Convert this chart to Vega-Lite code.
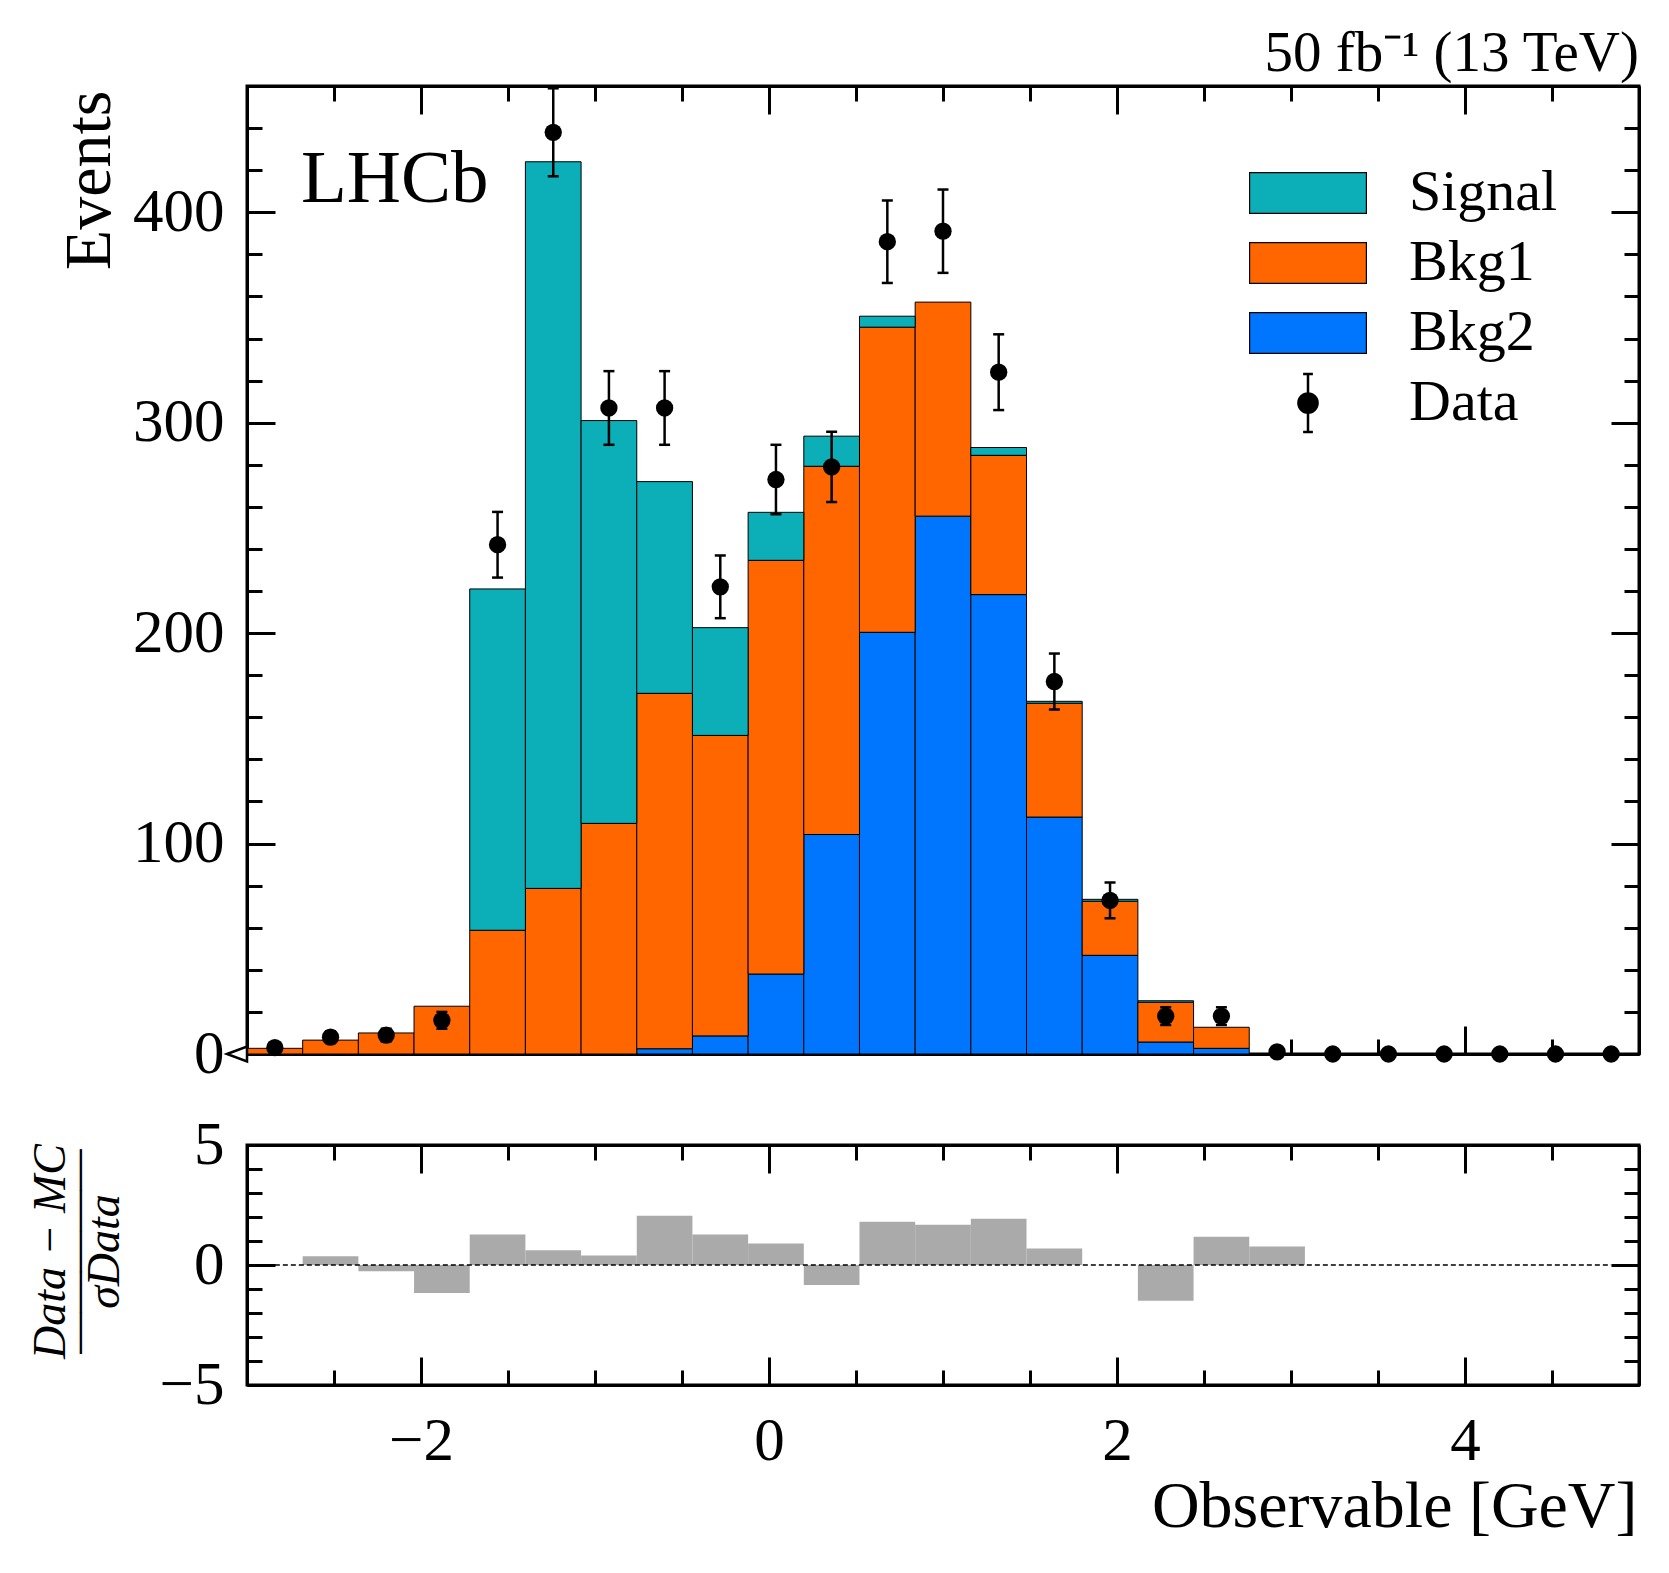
{
  "$schema": "https://vega.github.io/schema/vega-lite/v6.json",
  "background": "white",
  "padding": {"left": 25, "top": 23, "right": 20, "bottom": 20},
  "datasets": {
    "hist": [
      {"x0": -3.00, "x1": -2.68, "comp": "Bkg1", "k": 2, "count": 2.7},
      {"x0": -2.68, "x1": -2.36, "comp": "Bkg1", "k": 2, "count": 6.6},
      {"x0": -2.36, "x1": -2.04, "comp": "Bkg1", "k": 2, "count": 10},
      {"x0": -2.04, "x1": -1.72, "comp": "Bkg1", "k": 2, "count": 22.7},
      {"x0": -1.72, "x1": -1.40, "comp": "Bkg1", "k": 2, "count": 58.8},
      {"x0": -1.72, "x1": -1.40, "comp": "Signal", "k": 3, "count": 162.2},
      {"x0": -1.40, "x1": -1.08, "comp": "Bkg1", "k": 2, "count": 78.7},
      {"x0": -1.40, "x1": -1.08, "comp": "Signal", "k": 3, "count": 345.3},
      {"x0": -1.08, "x1": -0.76, "comp": "Bkg1", "k": 2, "count": 109.6},
      {"x0": -1.08, "x1": -0.76, "comp": "Signal", "k": 3, "count": 191.4},
      {"x0": -0.76, "x1": -0.44, "comp": "Bkg2", "k": 1, "count": 2.5},
      {"x0": -0.76, "x1": -0.44, "comp": "Bkg1", "k": 2, "count": 168.9},
      {"x0": -0.76, "x1": -0.44, "comp": "Signal", "k": 3, "count": 100.6},
      {"x0": -0.44, "x1": -0.12, "comp": "Bkg2", "k": 1, "count": 8.6},
      {"x0": -0.44, "x1": -0.12, "comp": "Bkg1", "k": 2, "count": 142.8},
      {"x0": -0.44, "x1": -0.12, "comp": "Signal", "k": 3, "count": 51.2},
      {"x0": -0.12, "x1": 0.20, "comp": "Bkg2", "k": 1, "count": 38},
      {"x0": -0.12, "x1": 0.20, "comp": "Bkg1", "k": 2, "count": 196.6},
      {"x0": -0.12, "x1": 0.20, "comp": "Signal", "k": 3, "count": 22.8},
      {"x0": 0.20, "x1": 0.52, "comp": "Bkg2", "k": 1, "count": 104.3},
      {"x0": 0.20, "x1": 0.52, "comp": "Bkg1", "k": 2, "count": 175},
      {"x0": 0.20, "x1": 0.52, "comp": "Signal", "k": 3, "count": 14.3},
      {"x0": 0.52, "x1": 0.84, "comp": "Bkg2", "k": 1, "count": 200.4},
      {"x0": 0.52, "x1": 0.84, "comp": "Bkg1", "k": 2, "count": 145},
      {"x0": 0.52, "x1": 0.84, "comp": "Signal", "k": 3, "count": 5.2},
      {"x0": 0.84, "x1": 1.16, "comp": "Bkg2", "k": 1, "count": 255.6},
      {"x0": 0.84, "x1": 1.16, "comp": "Bkg1", "k": 2, "count": 101.7},
      {"x0": 1.16, "x1": 1.48, "comp": "Bkg2", "k": 1, "count": 218.3},
      {"x0": 1.16, "x1": 1.48, "comp": "Bkg1", "k": 2, "count": 66.2},
      {"x0": 1.16, "x1": 1.48, "comp": "Signal", "k": 3, "count": 3.7},
      {"x0": 1.48, "x1": 1.80, "comp": "Bkg2", "k": 1, "count": 112.6},
      {"x0": 1.48, "x1": 1.80, "comp": "Bkg1", "k": 2, "count": 54.1},
      {"x0": 1.48, "x1": 1.80, "comp": "Signal", "k": 3, "count": 0.9},
      {"x0": 1.80, "x1": 2.12, "comp": "Bkg2", "k": 1, "count": 46.9},
      {"x0": 1.80, "x1": 2.12, "comp": "Bkg1", "k": 2, "count": 25.7},
      {"x0": 1.80, "x1": 2.12, "comp": "Signal", "k": 3, "count": 0.9},
      {"x0": 2.12, "x1": 2.44, "comp": "Bkg2", "k": 1, "count": 5.7},
      {"x0": 2.12, "x1": 2.44, "comp": "Bkg1", "k": 2, "count": 18.9},
      {"x0": 2.12, "x1": 2.44, "comp": "Signal", "k": 3, "count": 0.7},
      {"x0": 2.44, "x1": 2.76, "comp": "Bkg2", "k": 1, "count": 2.7},
      {"x0": 2.44, "x1": 2.76, "comp": "Bkg1", "k": 2, "count": 10}
    ],
    "obs": [
      {"xc": -2.84, "n": 3, "lo": 1.3, "hi": 4.7},
      {"xc": -2.52, "n": 8, "lo": 5.2, "hi": 10.8},
      {"xc": -2.20, "n": 9, "lo": 6, "hi": 12},
      {"xc": -1.88, "n": 16, "lo": 12, "hi": 20},
      {"xc": -1.56, "n": 242, "lo": 226.4, "hi": 257.6},
      {"xc": -1.24, "n": 438, "lo": 417.1, "hi": 458.9},
      {"xc": -0.92, "n": 307, "lo": 289.5, "hi": 324.5},
      {"xc": -0.60, "n": 307, "lo": 289.5, "hi": 324.5},
      {"xc": -0.28, "n": 222, "lo": 207.1, "hi": 236.9},
      {"xc": 0.04, "n": 273, "lo": 256.5, "hi": 289.5},
      {"xc": 0.36, "n": 279, "lo": 262.3, "hi": 295.7},
      {"xc": 0.68, "n": 386, "lo": 366.4, "hi": 405.6},
      {"xc": 1.00, "n": 391, "lo": 371.2, "hi": 410.8},
      {"xc": 1.32, "n": 324, "lo": 306, "hi": 342},
      {"xc": 1.64, "n": 177, "lo": 163.7, "hi": 190.3},
      {"xc": 1.96, "n": 73, "lo": 64.5, "hi": 81.5},
      {"xc": 2.28, "n": 18, "lo": 13.8, "hi": 22.2},
      {"xc": 2.60, "n": 18, "lo": 13.8, "hi": 22.2},
      {"xc": 2.92, "n": 1, "lo": 0, "hi": 2},
      {"xc": 3.24, "n": 0, "lo": 0, "hi": 0},
      {"xc": 3.56, "n": 0, "lo": 0, "hi": 0},
      {"xc": 3.88, "n": 0, "lo": 0, "hi": 0},
      {"xc": 4.20, "n": 0, "lo": 0, "hi": 0},
      {"xc": 4.52, "n": 0, "lo": 0, "hi": 0},
      {"xc": 4.84, "n": 0, "lo": 0, "hi": 0}
    ],
    "ratio": [
      {"x0": -2.68, "x1": -2.36, "r": 0.36},
      {"x0": -2.36, "x1": -2.04, "r": -0.26},
      {"x0": -2.04, "x1": -1.72, "r": -1.17},
      {"x0": -1.72, "x1": -1.40, "r": 1.27},
      {"x0": -1.40, "x1": -1.08, "r": 0.61},
      {"x0": -1.08, "x1": -0.76, "r": 0.40},
      {"x0": -0.76, "x1": -0.44, "r": 2.05},
      {"x0": -0.44, "x1": -0.12, "r": 1.27},
      {"x0": -0.12, "x1": 0.20, "r": 0.90},
      {"x0": 0.20, "x1": 0.52, "r": -0.83},
      {"x0": 0.52, "x1": 0.84, "r": 1.80},
      {"x0": 0.84, "x1": 1.16, "r": 1.68},
      {"x0": 1.16, "x1": 1.48, "r": 1.93},
      {"x0": 1.48, "x1": 1.80, "r": 0.69},
      {"x0": 2.12, "x1": 2.44, "r": -1.49},
      {"x0": 2.44, "x1": 2.76, "r": 1.18},
      {"x0": 2.76, "x1": 3.08, "r": 0.77}
    ]
  },
  "spacing": 91,
  "bounds": "flush",
  "vconcat": [
    {
      "width": 1392,
      "height": 968,
      "title": {
        "text": "50 fb⁻¹ (13 TeV)",
        "anchor": "end",
        "frame": "group",
        "baseline": "alphabetic",
        "offset": -73,
        "fontSize": 57,
        "fontWeight": "normal",
        "font": "Liberation Serif",
        "color": "black"
      },
      "layer": [
        {
          "data": {"name": "hist"},
          "transform": [
            {"stack": "count", "groupby": ["x0"], "sort": [{"field": "k", "order": "ascending"}], "as": ["y0", "y1"]}
          ],
          "mark": {"type": "rect", "stroke": "black", "strokeWidth": 1},
          "encoding": {
            "x": {
              "field": "x0", "type": "quantitative",
              "scale": {"domain": [-3, 5], "nice": false, "zero": false},
              "axis": {
                "orient": "bottom", "title": null, "labels": false,
                "values": [-3, -2.5, -2, -1.5, -1, -0.5, 0, 0.5, 1, 1.5, 2, 2.5, 3, 3.5, 4, 4.5, 5],
                "tickSize": {"condition": {"test": "datum.value % 2 === 0", "value": -28}, "value": -15}
              }
            },
            "x2": {"field": "x1"},
            "y": {
              "field": "y0", "type": "quantitative",
              "scale": {"domain": [0, 460], "nice": false},
              "axis": {
                "orient": "left",
                "values": [0, 20, 40, 60, 80, 100, 120, 140, 160, 180, 200, 220, 240, 260, 280, 300, 320, 340, 360, 380, 400, 420, 440, 460],
                "tickSize": {"condition": {"test": "datum.value % 100 === 0", "value": -28}, "value": -15},
                "labelExpr": "datum.value % 100 === 0 ? datum.label : ''",
                "labelPadding": 51,
                "title": "Events",
                "titleFontSize": 66,
                "titleAngle": -90,
                "titleAlign": "right",
                "titleAnchor": "end",
                "titleBaseline": "alphabetic",
                "titleX": -138,
                "titleY": 4
              }
            },
            "y2": {"field": "y1"},
            "color": {
              "field": "comp", "type": "nominal",
              "scale": {"domain": ["Signal", "Bkg1", "Bkg2", "Data"], "range": ["#0cafb7", "#ff6600", "#0076ff", "black"]},
              "legend": {
                "orient": "none",
                "legendX": 992,
                "legendY": 76,
                "title": null,
                "padding": 0,
                "clipHeight": 62,
                "symbolOffset": 40,
                "symbolSize": 1656,
                "symbolStrokeColor": "black",
                "symbolStrokeWidth": 1.2,
                "symbolOpacity": 1,
                "labelFont": "Liberation Serif",
                "labelFontSize": 58,
                "labelColor": "black",
                "labelOffset": 72,
                "rowPadding": 8,
                "encode": {
                  "symbols": {
                    "update": {
                      "shape": {"signal": "datum.value === 'Data' ? 'M0,-1.42V1.42M-0.24,-1.42H0.24M-0.24,1.42H0.24M-0.47,0A0.47,0.47,0,1,0,0.47,0A0.47,0.47,0,1,0,-0.47,0Z' : 'M-2.87,-1H2.87V1H-2.87Z'"},
                      "strokeWidth": {"signal": "datum.value === 'Data' ? 2.5 : 1.2"}
                    }
                  }
                }
              }
            },
            "order": {"field": "k", "type": "quantitative"}
          }
        },
        {
          "data": {"name": "obs"},
          "mark": {"type": "circle", "color": "black", "size": 300, "opacity": 1},
          "encoding": {
            "x": {
              "field": "xc", "type": "quantitative",
              "axis": {
                "orient": "top", "title": null, "labels": false,
                "values": [-3, -2.5, -2, -1.5, -1, -0.5, 0, 0.5, 1, 1.5, 2, 2.5, 3, 3.5, 4, 4.5, 5],
                "tickSize": {"condition": {"test": "datum.value % 2 === 0", "value": -28}, "value": -15}
              }
            },
            "y": {
              "field": "n", "type": "quantitative",
              "axis": {
                "orient": "right", "title": null, "labels": false,
                "values": [0, 20, 40, 60, 80, 100, 120, 140, 160, 180, 200, 220, 240, 260, 280, 300, 320, 340, 360, 380, 400, 420, 440, 460],
                "tickSize": {"condition": {"test": "datum.value % 100 === 0", "value": -28}, "value": -15}
              }
            }
          }
        },
        {
          "data": {"name": "obs"},
          "mark": {"type": "rule", "color": "black", "strokeWidth": 2.5},
          "encoding": {
            "x": {"field": "xc", "type": "quantitative", "axis": null},
            "y": {"field": "lo", "type": "quantitative", "axis": null},
            "y2": {"field": "hi"}
          }
        },
        {
          "data": {"name": "obs"},
          "mark": {"type": "tick", "orient": "horizontal", "color": "black", "size": 11, "thickness": 2.5, "opacity": 1},
          "encoding": {
            "x": {"field": "xc", "type": "quantitative", "axis": null},
            "y": {"field": "lo", "type": "quantitative", "axis": null}
          }
        },
        {
          "data": {"name": "obs"},
          "mark": {"type": "tick", "orient": "horizontal", "color": "black", "size": 11, "thickness": 2.5, "opacity": 1},
          "encoding": {
            "x": {"field": "xc", "type": "quantitative", "axis": null},
            "y": {"field": "hi", "type": "quantitative", "axis": null}
          }
        },
        {
          "data": {"values": [{"t": "LHCb"}]},
          "mark": {"type": "text", "align": "left", "baseline": "alphabetic", "fontSize": 75, "font": "Liberation Serif", "color": "black"},
          "encoding": {
            "text": {"field": "t"},
            "x": {"datum": -2.69, "type": "quantitative", "axis": null},
            "y": {"datum": 405, "type": "quantitative", "axis": null}
          }
        },
        {
          "data": {"values": [{"m": 0}]},
          "mark": {"type": "point", "shape": "M-1,0L1,-0.75L1,0.75Z", "size": 400, "filled": true, "fill": "white", "stroke": "black", "strokeWidth": 2.5, "xOffset": -10, "opacity": 1},
          "encoding": {
            "x": {"datum": -3, "type": "quantitative", "axis": null},
            "y": {"field": "m", "type": "quantitative", "axis": null}
          }
        }
      ],
      "resolve": {"axis": {"x": "independent", "y": "independent"}}
    },
    {
      "width": 1392,
      "height": 240,
      "layer": [
        {
          "data": {"name": "ratio"},
          "mark": {"type": "rect", "color": "#aaaaaa"},
          "encoding": {
            "x": {
              "field": "x0", "type": "quantitative",
              "scale": {"domain": [-3, 5], "nice": false, "zero": false},
              "axis": {
                "orient": "bottom",
                "values": [-3, -2.5, -2, -1.5, -1, -0.5, 0, 0.5, 1, 1.5, 2, 2.5, 3, 3.5, 4, 4.5, 5],
                "tickSize": {"condition": {"test": "datum.value % 2 === 0", "value": -28}, "value": -15},
                "labelExpr": "datum.value % 2 === 0 ? replace(format(datum.value, 'd'), '-', '−') : ''",
                "labelBaseline": "alphabetic",
                "labelPadding": 102,
                "title": "Observable [GeV]",
                "titleFontSize": 66,
                "titleAnchor": "end",
                "titleAlign": "right",
                "titleBaseline": "alphabetic",
                "titleX": 1390,
                "titleY": 141
              }
            },
            "x2": {"field": "x1"},
            "y": {
              "field": "r", "type": "quantitative",
              "scale": {"domain": [-5, 5], "nice": false},
              "axis": {
                "orient": "left",
                "values": [-5, -4, -3, -2, -1, 0, 1, 2, 3, 4, 5],
                "tickSize": {"condition": {"test": "datum.value % 5 === 0", "value": -28}, "value": -15},
                "labelExpr": "datum.value % 5 === 0 ? replace(format(datum.value, 'd'), '-', '−') : ''",
                "labelPadding": 51,
                "title": ["Data − MC", "—————", "σData"],
                "titleFontSize": 46,
                "titleFontStyle": "italic",
                "titleLineHeight": 27,
                "titleAngle": -90,
                "titleAlign": "center",
                "titleBaseline": "alphabetic",
                "titleX": -183,
                "titleY": 106
              }
            },
            "y2": {"datum": 0}
          }
        },
        {
          "data": {"values": [{"z": 0}]},
          "mark": {"type": "rule", "color": "black", "strokeWidth": 1.3, "strokeDash": [5, 3]},
          "encoding": {
            "x": {
              "datum": -2.84, "type": "quantitative",
              "axis": {
                "orient": "top", "title": null, "labels": false,
                "values": [-3, -2.5, -2, -1.5, -1, -0.5, 0, 0.5, 1, 1.5, 2, 2.5, 3, 3.5, 4, 4.5, 5],
                "tickSize": {"condition": {"test": "datum.value % 2 === 0", "value": -28}, "value": -15}
              }
            },
            "x2": {"datum": 4.84},
            "y": {
              "field": "z", "type": "quantitative",
              "axis": {
                "orient": "right", "title": null, "labels": false,
                "values": [-5, -4, -3, -2, -1, 0, 1, 2, 3, 4, 5],
                "tickSize": {"condition": {"test": "datum.value % 5 === 0", "value": -28}, "value": -15}
              }
            }
          }
        }
      ],
      "resolve": {"axis": {"x": "independent", "y": "independent"}}
    }
  ],
  "config": {
    "font": "Liberation Serif",
    "view": {"stroke": "black", "strokeWidth": 3},
    "axis": {
      "grid": false,
      "domain": true,
      "domainColor": "black",
      "domainWidth": 3,
      "tickColor": "black",
      "tickWidth": 3,
      "labelColor": "black",
      "labelFont": "Liberation Serif",
      "labelFontSize": 61,
      "labelOverlap": false,
      "labelFlush": false,
      "titleFont": "Liberation Serif",
      "titleFontSize": 64,
      "titleFontWeight": "normal",
      "titleColor": "black",
      "zindex": 1
    }
  }
}
